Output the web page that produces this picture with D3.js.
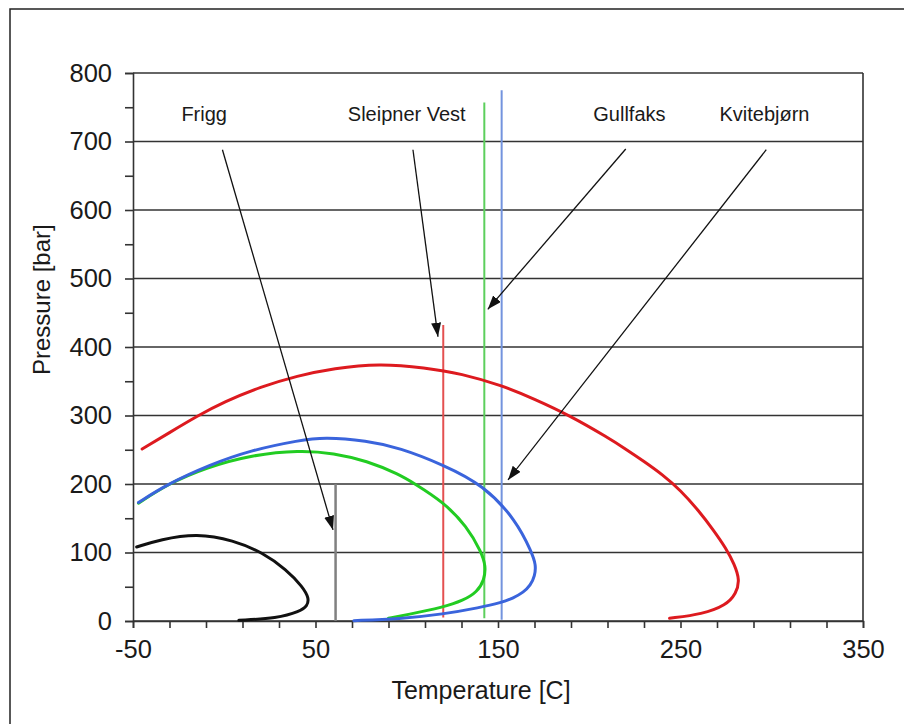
<!DOCTYPE html>
<html>
<head>
<meta charset="utf-8">
<script src="https://cdn.jsdelivr.net/npm/d3@7"></script>
<style>
  body { margin: 0; background: #fff; }
  text { font-family: "Liberation Sans", Arial, sans-serif; fill: #1a1a1a; }
</style>
</head>
<body>
<div id="chart"></div>
<script>
// phase envelopes, [temperature C, pressure bar]
var friggCurve = [[8, 1], [29, 4], [41.5, 14], [45.5, 22], [46.5, 33], [43, 50], [34, 75], [21, 100], [5, 118], [-15, 128], [-35, 119], [-48, 108]];
var sleipnerCurve = [[90, 4], [100, 9], [120, 20], [131, 30], [138.5, 42], [142.5, 60], [143.3, 80], [141, 100], [133, 138], [120, 174], [104, 201], [96, 214], [78, 234], [60, 245], [41.5, 249.5], [14, 242], [-10, 224], [-31, 200], [-47, 172]];
var gullfaksCurve = [[71, 0.5], [96, 3], [120, 10], [140, 19.5], [152, 27], [158, 33], [164, 42], [167.8, 52], [170.2, 66], [170.8, 82], [168.5, 100], [160, 147], [142, 198.5], [120, 228], [96, 253], [78, 263], [55, 268.5], [41.5, 264], [14, 249], [-8, 228], [-31, 200], [-47, 173]];
var kvitebjornCurve = [[244, 4], [262, 10], [275, 23], [280.5, 40], [282.5, 60], [279.5, 83], [275, 106], [268, 133], [260, 161], [250, 191], [240, 214], [230, 233], [220, 251], [210, 268], [190, 299], [170, 324], [152, 344], [130, 361], [110, 370], [85, 376], [60, 369], [40, 358], [20, 342], [0, 320], [-15, 299], [-30, 275], [-45, 251]];

// reservoir conditions: temperature and pressure range of each vertical line
var reservoirTemp = [61, 120, 142.5, 152];
var reservoirPBottom = [0, 5, 4, 2];
var reservoirPTop = [200, 432, 757, 775];

// field labels and arrows
var fieldNames = ["Frigg", "Sleipner Vest", "Gullfaks", "Kvitebjørn"];
var labelTemp = [-11, 100, 222, 296];
var labelPress = [730, 730, 730, 730];
var arrowFrom = [[-1, 688], [103.4, 688], [220, 689], [297, 688]];
var arrowTo = [[59.6, 133], [117.1, 415], [144.4, 455], [155.5, 206]];

var xLabelTicks = [-50, 50, 150, 250, 350];
var yLabelTicks = [0, 100, 200, 300, 400, 500, 600, 700, 800];

var svgWidth = 904;
var svgHeight = 724;
var margin = { top: 73, right: 41, bottom: 103, left: 133 };
var width = svgWidth - margin.left - margin.right;
var height = svgHeight - margin.top - margin.bottom;

var curveColors = ["#111111", "#22cc22", "#3a64dc", "#dd1a1f"];
var lineColors = ["#808080", "#e45050", "#5ccf5c", "#7393de"];

var svg = d3.select("#chart")
  .append("svg")
  .attr("width", svgWidth)
  .attr("height", svgHeight);

// outer frame
svg.append("rect")
  .attr("x", 10)
  .attr("y", 9)
  .attr("width", svgWidth)
  .attr("height", svgHeight)
  .attr("fill", "none")
  .attr("stroke", "#222")
  .attr("stroke-width", 1.5);

var chartGroup = svg.append("g")
  .attr("transform", `translate(${margin.left}, ${margin.top})`);

var x = d3.scaleLinear().domain([-50, 350]).range([0, width]);
var y = d3.scaleLinear().domain([0, 800]).range([height, 0]);

// gridlines
chartGroup.append("g")
  .selectAll("line")
  .data(yLabelTicks)
  .enter()
  .append("line")
  .attr("x1", 0)
  .attr("x2", width)
  .attr("y1", d => y(d))
  .attr("y2", d => y(d))
  .attr("stroke", "#333")
  .attr("stroke-width", 1.6);

// right border
chartGroup.append("line")
  .attr("x1", width).attr("x2", width)
  .attr("y1", 0).attr("y2", height)
  .attr("stroke", "#333")
  .attr("stroke-width", 1.6);

// axes
var leftAxis = d3.axisLeft(y)
  .tickValues(d3.range(0, 801, 50))
  .tickSize(8)
  .tickPadding(13)
  .tickFormat(d => (d % 100 === 0 ? d : ""));

var bottomAxis = d3.axisBottom(x)
  .tickValues(d3.range(-50, 351, 20))
  .tickSize(7)
  .tickPadding(12)
  .tickFormat(d => (xLabelTicks.indexOf(d) >= 0 ? d : ""));

var yAxisG = chartGroup.append("g").call(leftAxis);
var xAxisG = chartGroup.append("g")
  .attr("transform", `translate(0, ${height})`)
  .call(bottomAxis);

[yAxisG, xAxisG].forEach(function(g) {
  g.select(".domain").attr("stroke", "#333").attr("stroke-width", 1.6);
  g.selectAll(".tick line").attr("stroke", "#333").attr("stroke-width", 1.6);
  g.selectAll(".tick text")
    .attr("font-size", "25.5px")
    .attr("font-family", "Liberation Sans, Arial, sans-serif")
    .attr("fill", "#1a1a1a");
});

// reservoir vertical lines
chartGroup.append("g")
  .selectAll("line")
  .data(reservoirTemp)
  .enter()
  .append("line")
  .attr("x1", d => x(d))
  .attr("x2", d => x(d))
  .attr("y1", (d, i) => y(reservoirPBottom[i]))
  .attr("y2", (d, i) => y(reservoirPTop[i]))
  .attr("stroke", (d, i) => lineColors[i])
  .attr("stroke-width", (d, i) => (i === 0 ? 2.5 : 2));

// phase envelopes (b-spline smooths the hand-read points)
var line = d3.line()
  .x(d => x(d[0]))
  .y(d => y(d[1]))
  .curve(d3.curveBasis);

[friggCurve, sleipnerCurve, gullfaksCurve, kvitebjornCurve].forEach(function(c, i) {
  chartGroup.append("path")
    .datum(c)
    .attr("d", line)
    .attr("fill", "none")
    .attr("stroke", curveColors[i])
    .attr("stroke-width", 3)
    .attr("stroke-linecap", "round");
});

// arrows
svg.append("defs").append("marker")
  .attr("id", "head")
  .attr("markerUnits", "userSpaceOnUse")
  .attr("viewBox", "0 0 14 10")
  .attr("refX", 14)
  .attr("refY", 5)
  .attr("markerWidth", 14)
  .attr("markerHeight", 10)
  .attr("orient", "auto")
  .append("path")
  .attr("d", "M0,0 L14,5 L0,10 Z")
  .attr("fill", "#111");

chartGroup.append("g")
  .selectAll("line")
  .data(arrowFrom)
  .enter()
  .append("line")
  .attr("x1", d => x(d[0]))
  .attr("y1", d => y(d[1]))
  .attr("x2", (d, i) => x(arrowTo[i][0]))
  .attr("y2", (d, i) => y(arrowTo[i][1]))
  .attr("stroke", "#111")
  .attr("stroke-width", 1.3)
  .attr("marker-end", "url(#head)");

// field labels
chartGroup.append("g")
  .selectAll("text")
  .data(fieldNames)
  .enter()
  .append("text")
  .attr("x", (d, i) => x(labelTemp[i]))
  .attr("y", (d, i) => y(labelPress[i]))
  .attr("text-anchor", "middle")
  .attr("font-size", "20px")
  .text(d => d);

// axis titles
svg.append("text")
  .attr("transform", "translate(50, 375) rotate(-90)")
  .attr("font-size", "24px")
  .text("Pressure [bar]");

svg.append("text")
  .attr("x", 481)
  .attr("y", 699)
  .attr("text-anchor", "middle")
  .attr("font-size", "25px")
  .text("Temperature [C]");
</script>
</body>
</html>
